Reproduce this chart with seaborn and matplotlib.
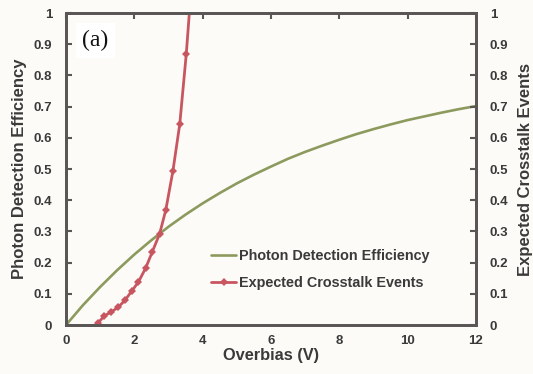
import matplotlib
matplotlib.use("Agg")
import matplotlib.pyplot as plt
import seaborn as sns
import pandas as pd

# Photon detection efficiency vs. overbias
pde_overbias = [0.0, 0.5, 1.0, 1.5, 2.0, 2.5, 3.0, 3.5, 4.0, 4.5, 5.0, 5.5, 6.0, 6.5, 7.0, 7.5, 8.0, 8.5, 9.0, 9.5, 10.0, 10.5, 11.0, 11.5, 12.0]
pde_values = [0.0, 0.064, 0.122, 0.176, 0.226, 0.272, 0.315, 0.354, 0.390, 0.423, 0.454, 0.482, 0.508, 0.533, 0.555, 0.575, 0.594, 0.612, 0.628, 0.643, 0.657, 0.669, 0.681, 0.692, 0.702]

# Expected crosstalk events vs. overbias
ct_overbias = [0.94, 1.12, 1.31, 1.53, 1.73, 1.92, 2.12, 2.33, 2.52, 2.74, 2.92, 3.13, 3.33, 3.52, 3.72]
ct_values = [0.007, 0.029, 0.041, 0.057, 0.080, 0.108, 0.138, 0.182, 0.233, 0.292, 0.368, 0.494, 0.644, 0.868, 1.16]

x_ticks = [0, 2, 4, 6, 8, 10, 12]
y_ticks = [0, 0.1, 0.2, 0.3, 0.4, 0.5, 0.6, 0.7, 0.8, 0.9, 1]
y_tick_labels = ["0", "0.1", "0.2", "0.3", "0.4", "0.5", "0.6", "0.7", "0.8", "0.9", "1"]

pde_df = pd.DataFrame({"Overbias (V)": pde_overbias, "PDE": pde_values})
ct_df = pd.DataFrame({"Overbias (V)": ct_overbias, "Crosstalk": ct_values})

sns.set_theme(style="white")
plt.rcParams["font.family"] = ["Liberation Sans", "DejaVu Sans"]
plt.rcParams["font.weight"] = "bold"

bg = "#fdfbf8"
text_c = "#3a3a3a"
spine_c = "#5a5656"
green = "#8c9a5e"
red = "#c85661"

fig = plt.figure(figsize=(5.33, 3.74), dpi=100, facecolor=bg)
ax = fig.add_axes([0.1238, 0.131, 0.7692, 0.834], facecolor=bg)
ax2 = ax.twinx()

sns.lineplot(data=pde_df, x="Overbias (V)", y="PDE", ax=ax, color=green,
             linewidth=1.9, label="Photon Detection Efficiency", legend=False)
sns.lineplot(data=ct_df, x="Overbias (V)", y="Crosstalk", ax=ax2, color=red,
             linewidth=2.0, marker="D", markersize=4.5, markeredgewidth=0,
             label="Expected Crosstalk Events", legend=False)

for a in (ax, ax2):
    a.set_xlim(0, 12)
    a.set_ylim(0, 1)
    a.set_yticks(y_ticks)
    a.set_yticklabels(y_tick_labels)

ax.set_xticks(x_ticks)
ax.set_xticklabels([str(t) for t in x_ticks])

ax.set_xlabel("Overbias (V)", fontsize=11.8, fontweight="bold", color=text_c, labelpad=1)
ax.set_ylabel("Photon Detection Efficiency", fontsize=12, fontweight="bold", color=text_c, labelpad=5)
ax2.set_ylabel("Expected Crosstalk Events", fontsize=12, fontweight="bold", color=text_c, labelpad=7)

ax.tick_params(axis="both", direction="in", length=4, width=1.5, color=spine_c,
               labelsize=9.5, labelcolor=text_c, top=True, pad=7)
ax.tick_params(axis="y", right=False, pad=10)
ax2.tick_params(axis="y", direction="in", length=4, width=1.5, color=spine_c,
                labelsize=9.5, labelcolor=text_c, pad=10)

for a in (ax, ax2):
    for s in a.spines.values():
        s.set_visible(True)
        s.set_color(spine_c)
        s.set_linewidth(2.0)
    for lbl in a.get_xticklabels() + a.get_yticklabels():
        lbl.set_fontweight("bold")

ax.text(0.04, 0.912, "(a)", transform=ax.transAxes, fontsize=17,
        family=["Liberation Serif", "DejaVu Serif"], fontweight="normal", color="#111111",
        va="center", ha="left",
        bbox=dict(facecolor="white", edgecolor="none", pad=5))

h1, l1 = ax.get_legend_handles_labels()
h2, l2 = ax2.get_legend_handles_labels()
leg = ax2.legend(h1 + h2, l1 + l2, loc="center left", bbox_to_anchor=(0.323, 0.178),
                 frameon=False, handlelength=1.7, handletextpad=0.2, labelspacing=0.95,
                 prop={"size": 10.4, "weight": "bold"})
for t in leg.get_texts():
    t.set_color(text_c)

fig.savefig("out.png", dpi=100, facecolor=bg)
